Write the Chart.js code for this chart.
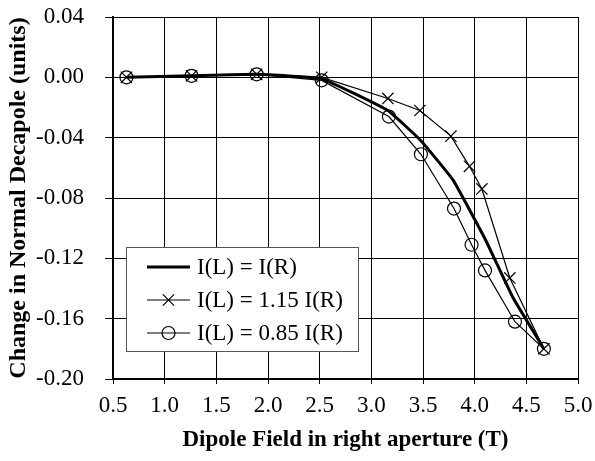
<!DOCTYPE html>
<html>
<head>
<meta charset="utf-8">
<script src="https://cdn.jsdelivr.net/npm/chart.js@4/dist/chart.umd.min.js"></script>
<style>
  html, body { margin: 0; padding: 0; background: #fff; }
  #wrap { width: 595px; height: 461px; }
</style>
</head>
<body>
<div id="wrap"><canvas id="myChart" width="595" height="461"></canvas></div>
<script>
// Dane
const seriesNames = ['I(L) = I(R)', 'I(L) = 1.15 I(R)', 'I(L) = 0.85 I(R)'];

const fieldEqual = [0.63, 1.26, 1.89, 2.52, 3.16, 3.48, 3.79, 4.10, 4.37, 4.67];
const decapoleEqual = [0.000, 0.001, 0.002, -0.001, -0.022, -0.042, -0.068, -0.107, -0.146, -0.180];

const fieldHigh = [0.63, 1.26, 1.89, 2.52, 3.16, 3.47, 3.77, 3.95, 4.07, 4.34, 4.67];
const decapoleHigh = [0.000, 0.001, 0.002, 0.000, -0.014, -0.022, -0.039, -0.059, -0.074, -0.133, -0.180];

const fieldLow = [0.63, 1.26, 1.89, 2.52, 3.17, 3.48, 3.80, 3.97, 4.10, 4.39, 4.67];
const decapoleLow = [0.000, 0.001, 0.002, -0.002, -0.026, -0.051, -0.087, -0.111, -0.128, -0.162, -0.180];

const xTicks = [0.5, 1.0, 1.5, 2.0, 2.5, 3.0, 3.5, 4.0, 4.5, 5.0];
const yTicks = [0.04, 0.00, -0.04, -0.08, -0.12, -0.16, -0.20];

const toPoints = (xs, ys) => xs.map((x, i) => ({ x: x, y: ys[i] }));

Chart.defaults.font.family = "'Liberation Serif', 'Times New Roman', serif";
Chart.defaults.color = '#000';

// Legenda rysowana wewnątrz obszaru wykresu
const legendInside = {
  id: 'legendInside',
  afterDatasetsDraw(chart) {
    const ctx = chart.ctx;
    const area = chart.chartArea;
    const bx = area.left + 13, by = area.top + 230, bw = 232, bh = 104;
    ctx.save();
    ctx.fillStyle = '#fff';
    ctx.fillRect(bx, by, bw, bh);
    ctx.strokeStyle = '#555';
    ctx.lineWidth = 1;
    ctx.strokeRect(bx + 0.5, by + 0.5, bw, bh);
    ctx.font = "23px 'Liberation Serif', 'Times New Roman', serif";
    ctx.textBaseline = 'middle';
    chart.data.datasets.forEach((ds, i) => {
      const y = by + 20 + i * 33;
      ctx.strokeStyle = '#000';
      ctx.lineWidth = ds.borderWidth;
      ctx.beginPath();
      ctx.moveTo(bx + 21, y);
      ctx.lineTo(bx + 64, y);
      ctx.stroke();
      if (ds.pointRadius > 0) {
        ctx.lineWidth = ds.pointBorderWidth;
        ctx.fillStyle = 'rgba(0,0,0,0)';
        Chart.helpers.drawPoint(ctx, {
          pointStyle: ds.pointStyle,
          radius: ds.pointRadius,
          borderWidth: ds.pointBorderWidth
        }, bx + 42.5, y);
      }
      ctx.fillStyle = '#000';
      ctx.fillText(ds.label, bx + 71, y + 1);
    });
    ctx.restore();
  }
};

const canvas = document.getElementById('myChart');
const chart = new Chart(canvas, {
  type: 'line',
  data: {
    datasets: [
      {
        label: seriesNames[0],
        data: toPoints(fieldEqual, decapoleEqual),
        borderColor: '#000',
        borderWidth: 3,
        pointRadius: 0,
        pointStyle: false,
        tension: 0.1,
        fill: false
      },
      {
        label: seriesNames[1],
        data: toPoints(fieldHigh, decapoleHigh),
        borderColor: '#000',
        borderWidth: 1.2,
        pointStyle: 'crossRot',
        pointRadius: 8,
        pointBorderWidth: 1.2,
        pointBorderColor: '#000',
        tension: 0,
        fill: false
      },
      {
        label: seriesNames[2],
        data: toPoints(fieldLow, decapoleLow),
        borderColor: '#000',
        borderWidth: 1.2,
        pointStyle: 'circle',
        pointRadius: 6.5,
        pointBorderWidth: 1.2,
        pointBorderColor: '#000',
        pointBackgroundColor: 'rgba(0,0,0,0)',
        tension: 0,
        fill: false
      }
    ]
  },
  options: {
    responsive: false,
    animation: false,
    layout: { padding: { left: 0, right: 17, top: 17, bottom: 0 } },
    plugins: {
      legend: { display: false },
      tooltip: { enabled: false }
    },
    scales: {
      x: {
        type: 'linear',
        min: 0.5,
        max: 5.0,
        afterFit(scale) {
          scale.height = 82;
          scale.paddingLeft = 0;
          scale.paddingRight = 0;
        },
        afterBuildTicks(scale) { scale.ticks = xTicks.map(v => ({ value: v })); },
        ticks: {
          font: { size: 23 },
          padding: 8,
          maxRotation: 0,
          callback: v => v.toFixed(1)
        },
        grid: { color: '#000', lineWidth: 1, tickLength: 5 },
        border: { color: '#000', width: 2 },
        title: {
          display: true,
          text: 'Dipole Field in right aperture (T)',
          font: { size: 23, weight: 'bold' },
          padding: { top: 0, bottom: 7 }
        }
      },
      y: {
        type: 'linear',
        min: -0.20,
        max: 0.04,
        afterFit(scale) {
          scale.width = 113;
          scale.paddingTop = 0;
          scale.paddingBottom = 0;
        },
        afterBuildTicks(scale) { scale.ticks = yTicks.map(v => ({ value: v })); },
        ticks: {
          font: { size: 23 },
          padding: 21,
          callback: v => (Math.abs(v) < 1e-9 ? 0 : v).toFixed(2)
        },
        grid: { color: '#000', lineWidth: 1, tickLength: 8 },
        border: { color: '#000', width: 2 },
        title: {
          display: true,
          text: 'Change in Normal Decapole (units)',
          font: { size: 24, weight: 'bold' },
          padding: { top: 4, bottom: 0 }
        }
      }
    }
  },
  plugins: [legendInside]
});
</script>
</body>
</html>
